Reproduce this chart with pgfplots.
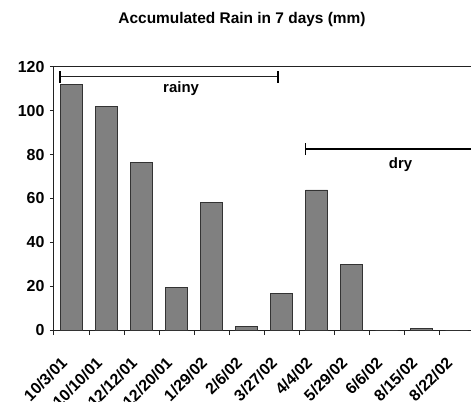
\documentclass[border=0pt]{standalone}
\usepackage{pgfplots}
\pgfplotsset{compat=1.18}
\usepackage{fontspec}
\setmainfont{Liberation Sans}
\definecolor{barfill}{HTML}{808080}
\definecolor{bardraw}{HTML}{333333}
\definecolor{axcol}{HTML}{222222}
\begin{document}
\begin{tikzpicture}
\path[use as bounding box] (0,0) rectangle (471bp,402bp);
\node[font=\fontsize{15.5}{15.5}\selectfont\bfseries] at (242bp,382bp) {Accumulated Rain in 7 days (mm)};
\begin{axis}[
  at={(54bp,72bp)}, anchor=south west,
  scale only axis, width=417bp, height=263bp,
  xmin=-0.5, xmax=11.41, ymin=0, ymax=120,
  axis x line*=bottom, axis y line*=left,
  axis line style={axcol, line width=1bp},
  ytick={0,20,...,120},
  xtick={0,...,11},
  xticklabels={10/3/01,10/10/01,12/12/01,12/20/01,1/29/02,2/6/02,3/27/02,4/4/02,5/29/02,6/6/02,8/15/02,8/22/02},
  minor xtick={-0.5,0.5,...,10.5},
  tick align=outside,
  major tick length=4bp, minor tick length=5bp,
  x tick style={draw=none},
  minor x tick style={draw=axcol, line width=1bp},
  y tick style={axcol, line width=1bp},
  /pgf/number format/assume math mode=true,
  yticklabel style={font=\fontsize{16}{16}\selectfont\bfseries, xshift=-2bp},
  xticklabel style={font=\fontsize{16}{16}\selectfont\bfseries, inner sep=0pt, xshift=-11.5bp, yshift=-22bp, rotate=45, anchor=north east},
  clip=false,
]
\addplot[ybar, bar width=0.63, fill=barfill, draw=bardraw, line width=0.8bp] coordinates {
(0,112) (1,102.2) (2,76.3) (3,19.5) (4,58.3) (5,1.5) (6,16.8) (7,63.9) (8,30.1) (9,0) (10,0.8) (11,0)
};
\draw[axcol, line width=1bp] (axis cs:-0.5,120) -- (axis cs:11.41,120);
% rainy bracket
\draw[axcol, line width=1bp] (axis cs:-0.33,115.6) -- (axis cs:5.9,115.6);
\draw[black, line width=1.5bp] (axis cs:-0.33,112.9) -- (axis cs:-0.33,118.3);
\draw[black, line width=1.5bp] (axis cs:5.9,112.9) -- (axis cs:5.9,118.3);
\node[font=\fontsize{15}{15}\selectfont\bfseries] at (axis cs:3.13,110.3) {rainy};
% dry bracket
\draw[black, line width=2bp] (axis cs:6.68,82.5) -- (axis cs:11.41,82.5);
\draw[black, line width=1.5bp] (axis cs:6.68,79.8) -- (axis cs:6.68,85.2);
\node[font=\fontsize{15}{15}\selectfont\bfseries] at (axis cs:9.4,75.3) {dry};
\end{axis}
\end{tikzpicture}
\end{document}
